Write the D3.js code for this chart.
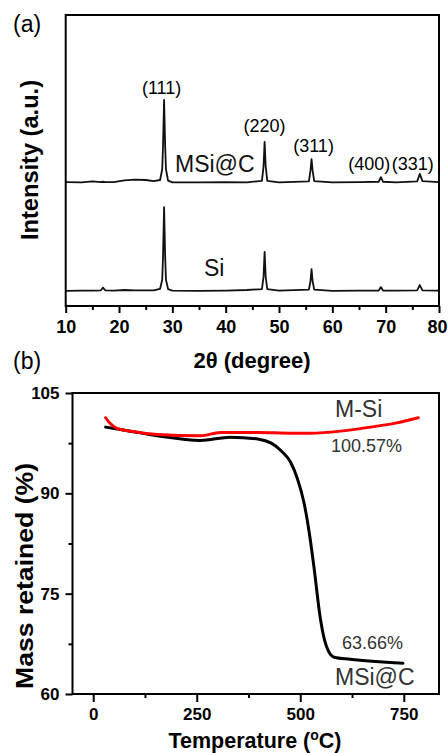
<!DOCTYPE html>
<html>
<head>
<meta charset="utf-8">
<script src="https://cdn.jsdelivr.net/npm/d3@7"></script>
<style>
  body { margin: 0; background: #fff; }
  svg { display: block; font-family: "Liberation Sans", Arial, sans-serif; }
</style>
</head>
<body>
<svg id="chart" width="448" height="753"></svg>
<script>
// ---- (a) XRD data (arbitrary intensity units) ----
var angles = [10, 13, 15, 16.6, 17, 17.4, 19, 21, 23, 25, 26.5, 27.7, 28.1, 28.25, 28.45, 28.65, 28.8, 29.2, 30, 35, 40, 44,
              46.8, 47.1, 47.3, 47.5, 47.8, 50, 55.6, 55.9, 56.1, 56.3, 56.6, 60, 65, 68.7, 69.1, 69.5, 72, 75.9, 76.4, 76.9, 80]
var msiC = [42.6, 42.5, 42.8, 42.6, 42.7, 42.6, 42.6, 43.2, 43.4, 43.3, 42.9, 43.3, 47, 55, 70.8, 55, 47, 43.1, 42.5, 42.5, 42.6, 42.5,
            43.0, 48, 56.4, 48, 43.0, 42.5, 42.8, 46.5, 50.5, 46.5, 42.9, 42.5, 42.6, 42.7, 44.3, 42.7, 42.5, 42.8, 45.4, 42.9, 42.6]
var si = [5.2, 5.3, 5.3, 5.4, 6.3, 5.4, 5.3, 5.5, 5.4, 5.4, 5.4, 5.9, 9, 17, 34, 17, 9, 5.8, 5.3, 5.2, 5.3, 5.5,
          5.8, 10, 18.6, 10, 5.8, 5.3, 5.6, 8.5, 12.7, 8.5, 5.6, 5.2, 5.3, 5.3, 6.5, 5.3, 5.3, 5.4, 7.2, 5.4, 5.3]
var peakLabels = ["(111)", "(220)", "(311)", "(400)", "(331)"]
var peakAngles = [28.45, 47.3, 56.1, 69.1, 76.4]
var xrdTicks = [10, 20, 30, 40, 50, 60, 70, 80]

// ---- (b) TGA data ----
var tempMSiC = [30, 80, 155, 259, 331, 400, 430, 455, 477, 493, 509, 522, 533, 548, 558, 568, 582, 620, 748]
var massMSiC = [99.9, 99.4, 98.6, 97.9, 98.4, 98.1, 97.5, 96.3, 94.6, 92.2, 88.6, 84.0, 79.0, 71.5, 68.2, 66.4, 65.5, 65.2, 64.6]
var tempMSi = [30, 40, 55, 100, 155, 259, 307, 400, 476, 525, 597, 669, 730, 785]
var massMSi = [101.3, 100.5, 99.8, 99.2, 98.8, 98.6, 99.1, 99.1, 99.0, 99.0, 99.3, 99.9, 100.5, 101.3]
var tgaXTicks = [0, 250, 500, 750]
var tgaYTicks = [60, 75, 90, 105]

var svg = d3.select("#chart")
svg.append("rect").attr("width", 448).attr("height", 753).attr("fill", "#fff")

// ================= panel (a) =================
var xa = d3.scaleLinear().domain([10, 80]).range([65.7, 439])
var ya = d3.scaleLinear().domain([0, 100]).range([306, 15])

var ga = svg.append("g")
var lineA = d3.line().x(function(d, i){ return xa(angles[i]) }).y(function(d){ return ya(d) })

ga.append("path").datum(msiC).attr("d", lineA)
  .attr("fill", "none").attr("stroke", "#111").attr("stroke-width", 1.8).attr("stroke-linejoin", "round")
ga.append("path").datum(si).attr("d", lineA)
  .attr("fill", "none").attr("stroke", "#111").attr("stroke-width", 1.8).attr("stroke-linejoin", "round")

// frame
ga.append("rect").attr("x", xa(10)).attr("y", ya(100)).attr("width", xa(80) - xa(10)).attr("height", ya(0) - ya(100))
  .attr("fill", "none").attr("stroke", "#000").attr("stroke-width", 2)

var axA = ga.append("g").attr("transform", "translate(0," + ya(0) + ")")
  .call(d3.axisBottom(xa).tickValues(xrdTicks).tickSize(7).tickSizeOuter(0).tickPadding(7))
axA.select(".domain").remove()
var axAm = ga.append("g").attr("transform", "translate(0," + ya(0) + ")")
  .call(d3.axisBottom(xa).tickValues([15, 25, 35, 45, 55, 65, 75]).tickSize(4).tickFormat(""))
axAm.select(".domain").remove()
ga.selectAll(".tick line").attr("stroke", "#000").attr("stroke-width", 2)
axA.selectAll("text").attr("font-size", 18).attr("font-weight", "bold").attr("fill", "#000")
  .style("font-family", "'Liberation Sans', Arial, sans-serif")
axA.selectAll("text").filter(function(d){ return d === 80 }).attr("dx", -2)

// peak labels
var labelOffsets = [[-2.5, -6], [0, -10], [2, -7], [-11.5, -7], [-7, -4]]
ga.selectAll(".peak").data(peakLabels).enter().append("text")
  .attr("class", "peak")
  .attr("x", function(d, i){ return xa(peakAngles[i]) + labelOffsets[i][0] })
  .attr("y", function(d, i){ return ya(msiC[angles.indexOf(peakAngles[i])]) + labelOffsets[i][1] })
  .attr("text-anchor", "middle").attr("font-size", 18).attr("fill", "#000")
  .text(function(d){ return d })

ga.append("text").attr("x", 175).attr("y", 172).attr("font-size", 23).attr("fill", "#111").text("MSi@C")
ga.append("text").attr("x", 204).attr("y", 276).attr("font-size", 23).attr("fill", "#111").text("Si")

ga.append("text").attr("x", 13).attr("y", 32).attr("font-size", 23).attr("fill", "#000").text("(a)")
ga.append("text").attr("transform", "translate(38,160) rotate(-90)").attr("text-anchor", "middle")
  .attr("font-size", 23).attr("font-weight", "bold").attr("textLength", 160).attr("lengthAdjust", "spacingAndGlyphs")
  .text("Intensity (a.u.)")
ga.append("text").attr("x", 252).attr("y", 368).attr("text-anchor", "middle")
  .attr("font-size", 22).attr("font-weight", "bold").text("2θ (degree)")

// ================= panel (b) =================
var xb = d3.scaleLinear().domain([-50, 835]).range([72.5, 439])
var yb = d3.scaleLinear().domain([60, 105]).range([694, 393])
var gb = svg.append("g")

var lineB = d3.line().curve(d3.curveMonotoneX)
gb.append("path").attr("d", lineB(tempMSiC.map(function(t, i){ return [xb(t), yb(massMSiC[i])] })))
  .attr("fill", "none").attr("stroke", "#000").attr("stroke-width", 3).attr("stroke-linecap", "round")
gb.append("path").attr("d", lineB(tempMSi.map(function(t, i){ return [xb(t), yb(massMSi[i])] })))
  .attr("fill", "none").attr("stroke", "#ff0000").attr("stroke-width", 3).attr("stroke-linecap", "round")

gb.append("rect").attr("x", xb(-50)).attr("y", yb(105)).attr("width", xb(835) - xb(-50)).attr("height", yb(60) - yb(105))
  .attr("fill", "none").attr("stroke", "#000").attr("stroke-width", 2)

var axBx = gb.append("g").attr("transform", "translate(0," + yb(60) + ")")
  .call(d3.axisBottom(xb).tickValues(tgaXTicks).tickSize(8).tickSizeOuter(0).tickPadding(6))
var axBxm = gb.append("g").attr("transform", "translate(0," + yb(60) + ")")
  .call(d3.axisBottom(xb).tickValues([125, 375, 625]).tickSize(4).tickFormat(""))
var axBy = gb.append("g").attr("transform", "translate(" + xb(-50) + ",0)")
  .call(d3.axisLeft(yb).tickValues(tgaYTicks).tickSize(7).tickSizeOuter(0).tickPadding(6))
var axBym = gb.append("g").attr("transform", "translate(" + xb(-50) + ",0)")
  .call(d3.axisLeft(yb).tickValues([67.5, 82.5, 97.5]).tickSize(4).tickFormat(""))
gb.selectAll(".domain").remove()
gb.selectAll(".tick line").attr("stroke", "#000").attr("stroke-width", 2)
gb.selectAll(".tick text").attr("font-size", 17).attr("font-weight", "bold").attr("fill", "#000")
  .style("font-family", "'Liberation Sans', Arial, sans-serif")

gb.append("text").attr("x", 335).attr("y", 417).attr("font-size", 23).attr("fill", "#333").text("M-Si")
gb.append("text").attr("x", 331).attr("y", 452).attr("font-size", 18).attr("fill", "#333").text("100.57%")
gb.append("text").attr("x", 342).attr("y", 649).attr("font-size", 18).attr("fill", "#333").text("63.66%")
gb.append("text").attr("x", 335).attr("y", 685).attr("font-size", 23).attr("fill", "#333").text("MSi@C")

gb.append("text").attr("x", 13).attr("y", 369).attr("font-size", 23).attr("fill", "#000").text("(b)")
gb.append("text").attr("transform", "translate(33,576) rotate(-90)").attr("text-anchor", "middle")
  .attr("font-size", 24).attr("font-weight", "bold").attr("textLength", 226).attr("lengthAdjust", "spacingAndGlyphs")
  .text("Mass retained (%)")
var tt = gb.append("text").attr("x", 255).attr("y", 748).attr("text-anchor", "middle")
  .attr("font-size", 21.5).attr("font-weight", "bold")
tt.append("tspan").text("Temperature (")
tt.append("tspan").attr("font-size", 14).attr("dy", -8).text("o")
tt.append("tspan").attr("dy", 8).text("C)")
</script>
</body>
</html>
